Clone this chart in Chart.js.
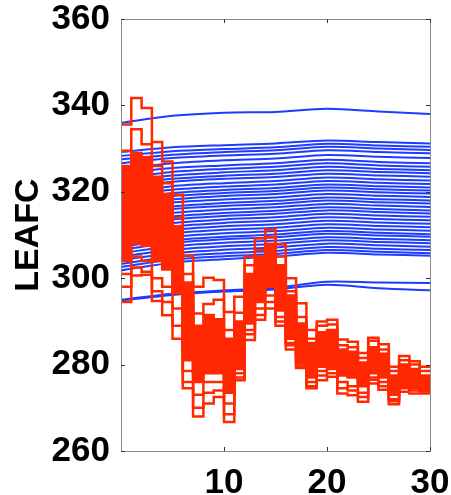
<!DOCTYPE html>
<html>
<head>
<meta charset="utf-8">
<script src="https://cdn.jsdelivr.net/npm/chart.js@4"></script>
<style>
body{margin:0;background:#fff}
</style>
</head>
<body>
<canvas id="myChart" width="451" height="495"></canvas>
<script>
// x positions
var blueX = [0, 5, 10, 15, 20, 25, 30];
var redX = [0,1,2,3,4,5,6,7,8,9,10,11,12,13,14,15,16,17,18,19,20,21,22,23,24,25,26,27,28,29,30];
var xTicks = [10, 20, 30];
var yTicks = [260, 280, 300, 320, 340, 360];

// blue runs (values at blueX)
var blue = [
  [336, 337.6, 338.3, 338.5, 339.2, 338.6, 338],
  [329.2, 330.3, 330.8, 331.2, 331.9, 331.5, 331.2],
  [328.3, 329.4, 329.9, 330.3, 331.1, 330.7, 330.4],
  [327.5, 328.6, 329.2, 329.6, 330.4, 330, 329.7],
  [326.6, 327.8, 328.4, 328.8, 329.6, 329.2, 328.9],
  [325.3, 326.6, 327.3, 327.7, 328.5, 328.1, 327.8],
  [324.2, 325.5, 326.1, 326.6, 327.4, 326.9, 326.6],
  [323.2, 324.6, 325.3, 325.8, 326.6, 326.1, 325.8],
  [322.5, 323.8, 324.5, 325, 325.8, 325.3, 325],
  [321.6, 323, 323.7, 324.2, 325, 324.6, 324.3],
  [320.9, 322.3, 323, 323.4, 324.2, 323.8, 323.5],
  [319.8, 321.3, 322, 322.5, 323.3, 322.9, 322.6],
  [319.1, 320.5, 321.2, 321.7, 322.5, 322.1, 321.8],
  [318.2, 319.7, 320.4, 320.9, 321.7, 321.3, 321],
  [317.6, 319, 319.7, 320.2, 321, 320.6, 320.3],
  [316.8, 318.2, 319, 319.5, 320.3, 319.9, 319.6],
  [316, 317.5, 318.2, 318.7, 319.5, 319.1, 318.8],
  [315.1, 316.6, 317.4, 317.9, 318.7, 318.3, 318],
  [314.5, 316, 316.7, 317.2, 318, 317.6, 317.3],
  [313.6, 315.1, 315.9, 316.4, 317.2, 316.8, 316.5],
  [312.8, 314.3, 315.1, 315.6, 316.4, 316, 315.7],
  [312.1, 313.6, 314.4, 314.9, 315.7, 315.3, 315],
  [311.2, 312.8, 313.6, 314.1, 314.9, 314.5, 314.2],
  [310.5, 312, 312.8, 313.3, 314.1, 313.7, 313.4],
  [309.6, 311.2, 312, 312.5, 313.3, 312.9, 312.6],
  [308.9, 310.4, 311.2, 311.7, 312.5, 312.1, 311.8],
  [308, 309.6, 310.4, 310.9, 311.7, 311.3, 311],
  [307.3, 308.8, 309.6, 310.1, 310.9, 310.5, 310.2],
  [306.6, 308.2, 309, 309.5, 310.3, 309.9, 309.6],
  [305.8, 307.4, 308.2, 308.7, 309.5, 309.1, 308.8],
  [305, 306.6, 307.4, 307.9, 308.8, 308.4, 308.1],
  [304.2, 305.8, 306.6, 307.1, 308, 307.6, 307.3],
  [303.3, 305, 305.8, 306.3, 307.2, 306.8, 306.5],
  [302.6, 304.3, 305.1, 305.6, 306.5, 306.1, 305.8],
  [301.8, 303.6, 304.4, 305, 305.9, 305.5, 305.2],
  [295, 296.4, 297.2, 297.8, 299.2, 299, 298.9],
  [294.8, 296.1, 296.9, 297.4, 298.5, 297.7, 297.2]
];

// red runs, one value per step (x=i..i+1)
var red = [
  [335.6,341.7,339.4,331.5,327,319.3,305.2,298,300.1,299.6,292.2,295.7,305,309.2,311.2,307.8,300,294.2,288,290,290.4,285.8,285.3,282.7,286.2,284.7,279.5,282,280.8,279.5],
  [329.5,334.5,331,326,322,314,301,291.8,294,295,288,292,303,306.5,309.5,305,297,291,286,289,289.3,284.5,284,281.5,285.5,283.5,278.5,281,280,278.5],
  [326,329,328,323.5,319.5,312,299,289,291.5,290.5,286,290,301,305,308,303,296,289.5,285,287.5,288,283.5,283,280.5,284,282.5,277.5,280,279,277.5],
  [322,327,326,321,317,310,297,287,289,288.5,284,288.5,299.5,304,307,302,294.5,288,283.5,286.5,286.5,282.5,282,279.5,283,281.5,277,279.5,278.5,277],
  [320,325,323,319,315.5,308.5,295,285.5,287,286.5,282.5,287,298.5,302.5,306,300.5,293,287,282.5,285.5,285.5,281.5,281,279,282.5,281,276.5,279,278,276.5],
  [318,323,321.5,317,314,307,293,284,285.5,285,281,286,297,301.5,305,299.5,292,286,281.5,284.5,284.5,281,280.5,278.5,281.5,280.5,276,278.5,277.5,276],
  [316,321,319.5,315,312,305.5,291,282.5,284,284,280,285,296,300.5,304,298.5,291,285,280.5,283.5,284,280.5,280,278,281,280,275.5,278,277,275.5],
  [314,318.5,318,313,310.5,304,289,281,283,282.5,279,284,295,299.5,303,297.5,290,284,280,283,283,280,279.5,277.5,280.5,279.5,275,277.5,276.5,275.5],
  [312,316.5,316,311,309,302.5,287,280,282,281.5,278,283,294,298.5,302,296.5,289,283,279.5,282,282.5,279.5,279,277,280,279,274.5,277,276.5,275],
  [310,314.5,314,309.5,307.5,301,285.5,279,281,280.5,277,282,293,297.5,301,295.5,288.5,282.5,279,281.5,282,279,278.5,276.5,279.5,278.5,274.5,277,276,275],
  [308,312,312,308,306,299.5,284,278,280,279.5,276,281,292,296.5,300,294.5,287.5,282,278.5,281,281,278.5,278,276,279,278,274,276.5,275.5,274.5],
  [306,310,310,306,304,298,282.5,277,279,278.5,274.5,280,291,295.5,299,293.5,286.5,281,278,280,280.5,278,277.5,275.5,278.5,277.5,273.5,276,275.5,274.5],
  [304,308,307.5,304,302,296.5,281,276,278,278,273.5,279,289.5,294.5,298,292.5,286,280.5,277,279.5,279.5,277.5,277,275,278,277,273,275.5,275,274],
  [301,305,304,300,298,293,278.5,273,276,276,271,278,288,293,296,291,285,280,276,278.5,279,276,275,273.5,277,276,272,275,274.5,274],
  [298,302.5,301.5,297,294.5,289,276,270,273.5,274,268.5,277,287,291.5,294.5,290,284.5,279.5,275,277.5,278,274.5,274,272.5,276.5,275,271.5,274.5,274,273.8],
  [294.5,300.6,300.8,294.7,291.4,286,274.5,268,271,272.5,266.7,276.4,285.7,290.4,293,289,283.5,279.2,274.5,276.4,277.2,273.3,272.9,271.4,275.6,274.2,270.8,273.7,273.3,273.3]
];

var redColor = 'rgb(255,40,0)';
var blueColor = 'rgb(30,60,255)';

var datasets = [];
red.forEach(function(r, k){
  datasets.push({
    data: redX.map(function(x, i){ return {x: x, y: r[Math.min(i, r.length - 1)]}; }),
    borderColor: redColor,
    backgroundColor: redColor,
    borderWidth: 2.5,
    stepped: true,
    pointRadius: 0,
    // the thick middle of the red runs is nearly solid
    fill: k == 12 ? 2 : false,
    order: 0
  });
});
blue.forEach(function(b){
  datasets.push({
    data: blueX.map(function(x, i){ return {x: x, y: b[i]}; }),
    borderColor: blueColor,
    borderWidth: 2,
    tension: 0.3,
    pointRadius: 0,
    fill: false,
    order: 1
  });
});

// box round the plot and inward tick marks
var frame = {
  id: 'frame',
  afterDraw: function(chart){
    var c = chart.ctx, a = chart.chartArea;
    c.save();
    c.strokeStyle = '#8a8a8a';
    c.lineWidth = 1;
    c.strokeRect(a.left + 0.5, a.top + 0.5, a.right - a.left, a.bottom - a.top);
    c.strokeStyle = '#333';
    yTicks.forEach(function(v){
      var y = Math.round(chart.scales.y.getPixelForValue(v)) + 0.5;
      c.beginPath(); c.moveTo(a.left, y); c.lineTo(a.left + 4, y);
      c.moveTo(a.right, y); c.lineTo(a.right - 4, y); c.stroke();
    });
    xTicks.forEach(function(v){
      var x = Math.round(chart.scales.x.getPixelForValue(v)) + 0.5;
      c.beginPath(); c.moveTo(x, a.bottom); c.lineTo(x, a.bottom - 4);
      c.moveTo(x, a.top); c.lineTo(x, a.top + 4); c.stroke();
    });
    c.restore();
  }
};

var ctx = document.getElementById('myChart').getContext('2d');
var chart = new Chart(ctx, {
  type: 'line',
  data: { datasets: datasets },
  options: {
    responsive: false,
    animation: false,
    layout: { padding: { top: 19, right: 21, left: 0, bottom: 0 } },
    plugins: { legend: { display: false }, tooltip: { enabled: false }, filler: { propagate: false } },
    scales: {
      x: {
        type: 'linear',
        min: 0, max: 30,
        afterBuildTicks: function(s){ s.ticks = xTicks.map(function(v){ return {value: v}; }); },
        afterFit: function(s){ s.height = 44; s.paddingLeft = 0; s.paddingRight = 0; },
        grid: { display: false, drawTicks: false },
        border: { display: false },
        ticks: { color: '#000', padding: 11, maxRotation: 0, font: { family: 'Liberation Sans', weight: 'bold', size: 35 } }
      },
      y: {
        min: 260, max: 360,
        afterBuildTicks: function(s){ s.ticks = yTicks.map(function(v){ return {value: v}; }); },
        afterFit: function(s){ s.width = 121; s.paddingTop = 0; s.paddingBottom = 0; },
        grid: { display: false, drawTicks: false },
        border: { display: false },
        ticks: { color: '#000', padding: 11, font: { family: 'Liberation Sans', weight: 'bold', size: 35 } },
        title: { display: true, text: 'LEAFC', color: '#000', padding: { top: 8, bottom: 0 }, font: { family: 'Liberation Sans', weight: 'bold', size: 34 } }
      }
    }
  },
  plugins: [frame]
});
</script>
</body>
</html>
